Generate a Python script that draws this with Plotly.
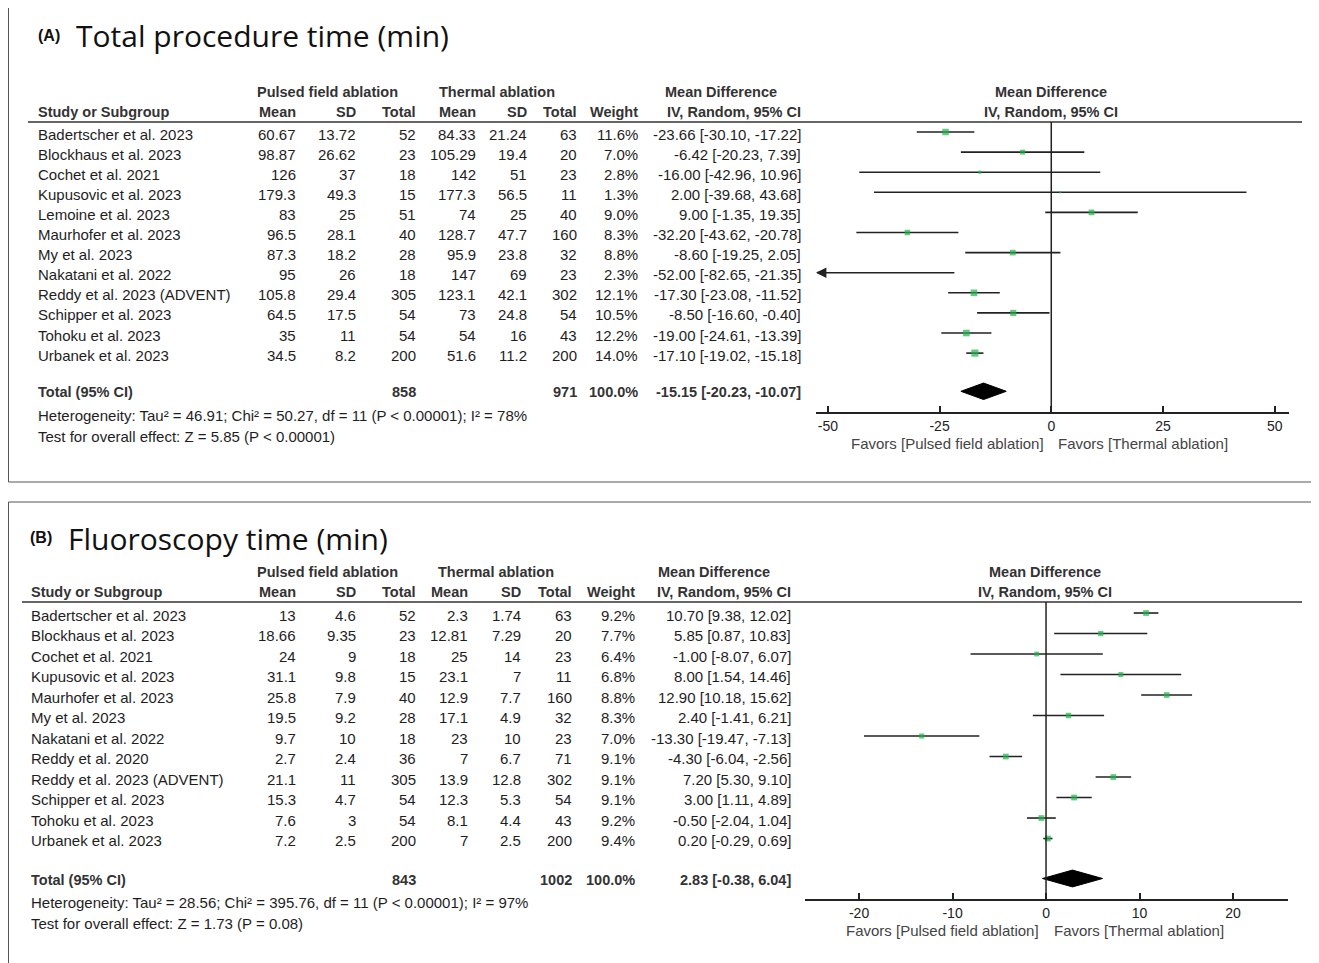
import math
import plotly.graph_objects as go

W, H = 1319, 963
OFF = 8                     # page body margin of the browser
FW, FH = W - OFF, H - OFF   # figure size so that it fills the window

# ---------------- Data: (A) Total procedure time ----------------
studies_a = ["Badertscher et al. 2023", "Blockhaus et al. 2023", "Cochet et al. 2021",
             "Kupusovic et al. 2023", "Lemoine et al. 2023", "Maurhofer et al. 2023",
             "My et al. 2023", "Nakatani et al. 2022", "Reddy et al. 2023 (ADVENT)",
             "Schipper et al. 2023", "Tohoku et al. 2023", "Urbanek et al. 2023"]
pfa_mean_a = [60.67, 98.87, 126, 179.3, 83, 96.5, 87.3, 95, 105.8, 64.5, 35, 34.5]
pfa_sd_a = [13.72, 26.62, 37, 49.3, 25, 28.1, 18.2, 26, 29.4, 17.5, 11, 8.2]
pfa_n_a = [52, 23, 18, 15, 51, 40, 28, 18, 305, 54, 54, 200]
th_mean_a = [84.33, 105.29, 142, 177.3, 74, 128.7, 95.9, 147, 123.1, 73, 54, 51.6]
th_sd_a = [21.24, 19.4, 51, 56.5, 25, 47.7, 23.8, 69, 42.1, 24.8, 16, 11.2]
th_n_a = [63, 20, 23, 11, 40, 160, 32, 23, 302, 54, 43, 200]
weight_a = [11.6, 7.0, 2.8, 1.3, 9.0, 8.3, 8.8, 2.3, 12.1, 10.5, 12.2, 14.0]
md_a = [-23.66, -6.42, -16.00, 2.00, 9.00, -32.20, -8.60, -52.00, -17.30, -8.50, -19.00, -17.10]
lo_a = [-30.10, -20.23, -42.96, -39.68, -1.35, -43.62, -19.25, -82.65, -23.08, -16.60, -24.61, -19.02]
hi_a = [-17.22, 7.39, 10.96, 43.68, 19.35, -20.78, 2.05, -21.35, -11.52, -0.40, -13.39, -15.18]
total_a = {"pfa_n": 858, "th_n": 971, "md": -15.15, "lo": -20.23, "hi": -10.07}
het_a = "Heterogeneity: Tau² = 46.91; Chi² = 50.27, df = 11 (P &lt; 0.00001); I² = 78%"
test_a = "Test for overall effect: Z = 5.85 (P &lt; 0.00001)"
ticks_a = [-50, -25, 0, 25, 50]

# ---------------- Data: (B) Fluoroscopy time ----------------
studies_b = ["Badertscher et al. 2023", "Blockhaus et al. 2023", "Cochet et al. 2021",
             "Kupusovic et al. 2023", "Maurhofer et al. 2023", "My et al. 2023",
             "Nakatani et al. 2022", "Reddy et al. 2020", "Reddy et al. 2023 (ADVENT)",
             "Schipper et al. 2023", "Tohoku et al. 2023", "Urbanek et al. 2023"]
pfa_mean_b = [13, 18.66, 24, 31.1, 25.8, 19.5, 9.7, 2.7, 21.1, 15.3, 7.6, 7.2]
pfa_sd_b = [4.6, 9.35, 9, 9.8, 7.9, 9.2, 10, 2.4, 11, 4.7, 3, 2.5]
pfa_n_b = [52, 23, 18, 15, 40, 28, 18, 36, 305, 54, 54, 200]
th_mean_b = [2.3, 12.81, 25, 23.1, 12.9, 17.1, 23, 7, 13.9, 12.3, 8.1, 7]
th_sd_b = [1.74, 7.29, 14, 7, 7.7, 4.9, 10, 6.7, 12.8, 5.3, 4.4, 2.5]
th_n_b = [63, 20, 23, 11, 160, 32, 23, 71, 302, 54, 43, 200]
weight_b = [9.2, 7.7, 6.4, 6.8, 8.8, 8.3, 7.0, 9.1, 9.1, 9.1, 9.2, 9.4]
md_b = [10.70, 5.85, -1.00, 8.00, 12.90, 2.40, -13.30, -4.30, 7.20, 3.00, -0.50, 0.20]
lo_b = [9.38, 0.87, -8.07, 1.54, 10.18, -1.41, -19.47, -6.04, 5.30, 1.11, -2.04, -0.29]
hi_b = [12.02, 10.83, 6.07, 14.46, 15.62, 6.21, -7.13, -2.56, 9.10, 4.89, 1.04, 0.69]
total_b = {"pfa_n": 843, "th_n": 1002, "md": 2.83, "lo": -0.38, "hi": 6.04}
het_b = "Heterogeneity: Tau² = 28.56; Chi² = 395.76, df = 11 (P &lt; 0.00001); I² = 97%"
test_b = "Test for overall effect: Z = 1.73 (P = 0.08)"
ticks_b = [-20, -10, 0, 10, 20]

# ---------------- styling ----------------
FONT = "Liberation Sans, Arial, sans-serif"
TITLE_FONT = "Open Sans, Noto Sans, sans-serif"
TXT = "#1e1e1e"
HDR = "#333333"
GREEN = "#1fb34a"
LINE = "#222222"


def px(x):
    return (x - OFF) / FW


def py(y):
    return 1 - (y - OFF) / FH


fig = go.Figure()
annotations = []
shapes = []


def add_text(x, y, s, anchor="left", size=15, bold=False, color=TXT, yref="paper", yshift=0, family=FONT):
    xshift = -2 if anchor == "left" else (1 if anchor == "right" else 0)
    annotations.append(dict(
        x=x, y=y, xref="paper", yref=yref, text=("<b>%s</b>" % s) if bold else s,
        showarrow=False, xanchor=anchor, yanchor="middle", yshift=yshift, xshift=xshift,
        font=dict(family=family, size=size, color=color)))


def fmt(v):
    return f"{v:g}"


def panel(p):
    ax, ay = p["xa"], p["ya"]
    axis_id = "x" if ax == "xaxis" else "x2"
    yaxis_id = "y" if ay == "yaxis" else "y2"
    xmin, xmax = p["xrange"]
    # Border
    shapes.append(dict(type="rect", xref="paper", yref="paper", x0=px(8.5), x1=px(1318),
                       y0=py(p["box"][1]), y1=py(p["box"][0]), line=dict(color="#555", width=1)))
    # Title
    add_text(px(p["lab_x"]), py(p["title_y"] - 1), p["label"], size=16, bold=True, color="#111")
    add_text(px(p["title_x"]), py(p["title_y"]), p["title"], size=30, color="#111", family=TITLE_FONT)
    # Group headers
    gy, hy = p["group_y"], p["head_y"]
    add_text(px(327), py(gy), "Pulsed field ablation", anchor="center", size=14.5, bold=True, color=HDR)
    add_text(px(p["th_center"]), py(gy), "Thermal ablation", anchor="center", size=14.5, bold=True, color=HDR)
    add_text(px(p["md_center"]), py(gy), "Mean Difference", anchor="center", size=14.5, bold=True, color=HDR)
    add_text(px(p["plot_center"]), py(gy), "Mean Difference", anchor="center", size=14.5, bold=True, color=HDR)
    add_text(px(p["name_x"]), py(hy), "Study or Subgroup", size=14.5, bold=True, color=HDR)
    cols = p["cols"]
    for c, lab in zip(cols, ["Mean", "SD", "Total", "Mean", "SD", "Total", "Weight", "IV, Random, 95% CI"]):
        add_text(px(c), py(hy), lab, anchor="right", size=14.5, bold=True, color=HDR)
    add_text(px(p["plot_center"]), py(hy), "IV, Random, 95% CI", anchor="center", size=14.5, bold=True, color=HDR)
    shapes.append(dict(type="line", xref="paper", yref="paper", x0=px(p["hline_x0"]), x1=px(1302),
                       y0=py(p["hline_y"]), y1=py(p["hline_y"]), line=dict(color="#333", width=1.5)))
    # Rows
    yref = yaxis_id
    for i, s in enumerate(p["studies"]):
        add_text(px(p["name_x"]), i, s, yref=yref, yshift=-2)
        vals = [fmt(p["pm"][i]), fmt(p["psd"][i]), str(p["pn"][i]), fmt(p["tm"][i]), fmt(p["tsd"][i]),
                str(p["tn"][i]), f"{p['w'][i]:.1f}%",
                f"{p['md'][i]:.2f} [{p['lo'][i]:.2f}, {p['hi'][i]:.2f}]"]
        for c, v in zip(cols, vals):
            add_text(px(c), i, v, anchor="right", yref=yref, yshift=-2)
    tp = p["total_pos"]
    t = p["total"]
    add_text(px(p["name_x"]), tp, "Total (95% CI)", yref=yref, bold=True, size=14.5, color=HDR, yshift=-1)
    add_text(px(cols[2]), tp, str(t["pfa_n"]), anchor="right", yref=yref, bold=True, size=14.5, color=HDR, yshift=-1)
    add_text(px(cols[5]), tp, str(t["th_n"]), anchor="right", yref=yref, bold=True, size=14.5, color=HDR, yshift=-1)
    add_text(px(cols[6]), tp, "100.0%", anchor="right", yref=yref, bold=True, size=14.5, color=HDR, yshift=-1)
    add_text(px(cols[7]), tp, f"{t['md']:.2f} [{t['lo']:.2f}, {t['hi']:.2f}]", anchor="right", yref=yref,
             bold=True, size=14.5, color=HDR, yshift=-1)
    add_text(px(p["name_x"]), py(p["het_y"]), p["het"])
    add_text(px(p["name_x"]), py(p["test_y"]), p["test"])

    # Forest: CI lines
    xs, ys = [], []
    for i in range(len(p["md"])):
        lo, hi = p["lo"][i], p["hi"][i]
        if lo < xmin:
            annotations.append(dict(x=xmin, y=i, xref=axis_id, yref=yaxis_id, ax=hi, ay=i,
                                    axref=axis_id, ayref=yaxis_id, showarrow=True, arrowhead=2,
                                    arrowsize=1.3, arrowwidth=1.6, arrowcolor=LINE, text="", standoff=0))
            continue
        xs += [lo, min(hi, xmax), None]
        ys += [i, i, None]
    fig.add_trace(go.Scatter(x=xs, y=ys, mode="lines", line=dict(color=LINE, width=1.6),
                             xaxis=axis_id, yaxis=yaxis_id, hoverinfo="skip"))
    fig.add_trace(go.Scatter(x=p["md"], y=list(range(len(p["md"]))), mode="markers",
                             marker=dict(symbol="square", color=GREEN,
                                         size=[1.9 * math.sqrt(w) for w in p["w"]],
                                         line=dict(width=0)),
                             xaxis=axis_id, yaxis=yaxis_id, hoverinfo="skip"))
    hh = 0.41
    fig.add_trace(go.Scatter(x=[t["lo"], t["md"], t["hi"], t["md"], t["lo"]],
                             y=[tp, tp - hh, tp, tp + hh, tp], mode="lines", fill="toself",
                             fillcolor="#000", line=dict(color="#000", width=1),
                             xaxis=axis_id, yaxis=yaxis_id, hoverinfo="skip"))
    shapes.append(dict(type="line", xref=axis_id, yref=yaxis_id + " domain", x0=0, x1=0, y0=0, y1=1,
                       line=dict(color=LINE, width=1.5)))
    fz = p["fav_y"]
    add_text(px(p["fav_r"]), py(fz), "Favors [Pulsed field ablation]", anchor="right", color="#444")
    add_text(px(p["fav_l"]), py(fz), "Favors [Thermal ablation]", anchor="left", color="#444")


PA = dict(xa="xaxis", ya="yaxis", xrange=(-52.65, 53.2), box=(7, 482), label="(A)",
          title="Total procedure time (min)", lab_x=38, title_x=76, title_y=36, group_y=92, head_y=112,
          th_center=497, md_center=721, plot_center=1051, name_x=38,
          cols=[297, 357, 417, 477, 528, 578, 639, 802], hline_x0=28, hline_y=122,
          studies=studies_a, pm=pfa_mean_a, psd=pfa_sd_a, pn=pfa_n_a, tm=th_mean_a, tsd=th_sd_a, tn=th_n_a,
          w=weight_a, md=md_a, lo=lo_a, hi=hi_a, total=total_a, total_pos=12.9,
          het=het_a, test=test_a, het_y=415, test_y=436, fav_y=443, fav_r=1045, fav_l=1058)
PB = dict(xa="xaxis2", ya="yaxis2", xrange=(-25.78, 25.88), box=(502, 995), label="(B)",
          title="Fluoroscopy time (min)", lab_x=30, title_x=68, title_y=538, group_y=572, head_y=592,
          th_center=496, md_center=714, plot_center=1045, name_x=31,
          cols=[297, 357, 417, 469, 522, 573, 636, 792], hline_x0=22, hline_y=602,
          studies=studies_b, pm=pfa_mean_b, psd=pfa_sd_b, pn=pfa_n_b, tm=th_mean_b, tsd=th_sd_b, tn=th_n_b,
          w=weight_b, md=md_b, lo=lo_b, hi=hi_b, total=total_b, total_pos=12.95,
          het=het_b, test=test_b, het_y=902, test_y=923, fav_y=930, fav_r=1040, fav_l=1054)

panel(PA)
panel(PB)

axis_common = dict(showgrid=False, zeroline=False, showline=True, linecolor=LINE, linewidth=1.5,
                   ticks="inside", ticklen=6, tickwidth=1.5, tickcolor=LINE,
                   tickfont=dict(family=FONT, size=14, color="#222"), fixedrange=True)

fig.update_layout(
    width=FW, height=FH, margin=dict(l=0, r=0, t=0, b=0),
    paper_bgcolor="white", plot_bgcolor="rgba(0,0,0,0)", showlegend=False,
    xaxis=dict(domain=[px(816), px(1289)], range=list(PA["xrange"]), anchor="y",
               tickvals=ticks_a, ticktext=[str(v) for v in ticks_a], **axis_common),
    yaxis=dict(domain=[py(412), py(122)], range=[13.93, -0.4975], visible=False, fixedrange=True),
    xaxis2=dict(domain=[px(805), px(1288)], range=list(PB["xrange"]), anchor="y2",
                tickvals=ticks_b, ticktext=[str(v) for v in ticks_b], **axis_common),
    yaxis2=dict(domain=[py(899), py(602)], range=[13.95, -0.537], visible=False, fixedrange=True),
    annotations=annotations, shapes=shapes,
)

fig.write_html("out.html")
